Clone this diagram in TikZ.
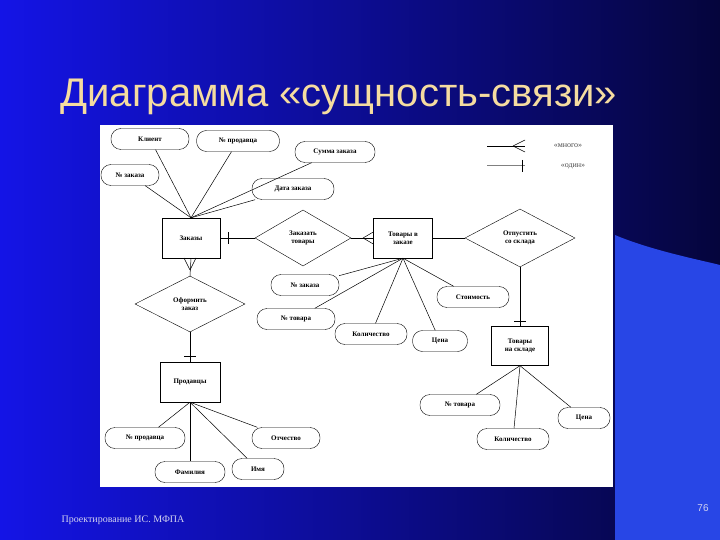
\documentclass[tikz,border=0pt]{standalone}
\usepackage{fontspec}
\setmainfont{Liberation Serif}
\newfontfamily\sansf{Liberation Sans}
\usetikzlibrary{shapes.geometric}
\definecolor{bgA}{RGB}{20,20,230}
\definecolor{bgB}{RGB}{5,5,60}
\definecolor{wedge}{RGB}{40,70,230}
\definecolor{titlec}{RGB}{245,220,160}
\definecolor{footc}{RGB}{210,210,240}
\begin{document}
\begin{tikzpicture}[x=1pt,y=-1pt,
 attr/.style={draw,rounded corners=10pt,minimum height=21pt,font=\fontsize{7}{7}\selectfont\bfseries,inner sep=1pt},
 ent/.style={draw,rectangle,font=\fontsize{7}{8}\selectfont\bfseries,align=center,inner sep=0pt},
 rel/.style={draw,diamond,aspect=1.8,font=\fontsize{7}{8}\selectfont\bfseries,align=center,inner sep=0pt},
 ln/.style={draw,line width=0.5pt}]
\useasboundingbox (0,0) rectangle (720,540);
\shade[left color=bgA,right color=bgB] (0,0) rectangle (720,540);
\fill[wedge] (615,235) .. controls (650,250) and (700,260) .. (720,265) -- (720,540) -- (615,540) -- cycle;
\node[font=\sansf\fontsize{40}{44}\selectfont,text=titlec,anchor=west] (title) at (57,97) {Диаграмма «сущность-связи»};
\node[font=\fontsize{10}{11}\selectfont,text=footc,anchor=west] (foot) at (58,520) {Проектирование ИС. МФПА};
\node[font=\sansf\fontsize{10}{11}\selectfont,text=footc] (num) at (703,508) {76};
\fill[white] (100,125) rectangle (613,487);
% entities
\node[ent,minimum width=58pt,minimum height=40pt] (zak) at (191,238) {Заказы};
\node[ent,minimum width=59pt,minimum height=40pt] (tvz) at (403,238) {Товары в\\заказе};
\node[ent,minimum width=57pt,minimum height=39pt] (tns) at (520,346) {Товары\\на складе};
\node[ent,minimum width=60pt,minimum height=40pt] (prod) at (190,382) {Продавцы};
% relations
\node[rel,minimum width=96pt,minimum height=56pt] (zt) at (303,238) {Заказать\\товары};
\node[rel,minimum width=110pt,minimum height=58pt] (ots) at (520,238) {Отпустить\\со склада};
\node[rel,minimum width=110pt,minimum height=56pt] (of) at (190,304) {Оформить\\заказ};
% attributes
\node[attr,minimum width=78pt] (a1) at (150,139) {Клиент};
\node[attr,minimum width=83pt] (a2) at (238,141) {№ продавца};
\node[attr,minimum width=80pt] (a3) at (335,152) {Сумма заказа};
\node[attr,minimum width=58pt] (a4) at (130,175) {№ заказа};
\node[attr,minimum width=82pt] (a5) at (293,189) {Дата заказа};
\node[attr,minimum width=68pt] (b1) at (305,285) {№ заказа};
\node[attr,minimum width=72pt] (b2) at (473,297) {Стоимость};
\node[attr,minimum width=78pt] (b3) at (296,319) {№ товара};
\node[attr,minimum width=72pt] (b4) at (371,334) {Количество};
\node[attr,minimum width=55pt] (b5) at (440,341) {Цена};
\node[attr,minimum width=80pt] (c1) at (460,405) {№ товара};
\node[attr,minimum width=52pt] (c2) at (584,418) {Цена};
\node[attr,minimum width=72pt] (c3) at (513,439) {Количество};
\node[attr,minimum width=80pt] (d1) at (145,438) {№ продавца};
\node[attr,minimum width=68pt] (d2) at (286,438) {Отчество};
\node[attr,minimum width=70pt] (d3) at (190,472) {Фамилия};
\node[attr,minimum width=52pt] (d4) at (258,469) {Имя};
% attribute links
\foreach \a in {a1,a2,a3,a4,a5} \draw[ln] (zak.north) -- (\a);
\foreach \a in {b1,b2,b3,b4,b5} \draw[ln] (tvz.south) -- (\a);
\foreach \a in {c1,c2,c3} \draw[ln] (tns.south) -- (\a);
\foreach \a in {d1,d2,d3,d4} \draw[ln] (prod.south) -- (\a);
% relationships
\draw[ln] (zak.east) -- (zt.west);
\draw[ln] (228,232) -- (228,244);
\draw[ln] (zt.east) -- (tvz.west);
\draw[ln] (363,238) -- (tvz.west |- 0,232) (363,238) -- (tvz.west |- 0,244);
\draw[ln] (tvz.east) -- (ots.west);
\draw[ln] (ots.south) -- (tns.north);
\draw[ln] (514,321) -- (526,321);
\draw[ln] (zak.south) -- (of.north);
\draw[ln] (190,270) -- (184,258) (190,270) -- (196,258);
\draw[ln] (of.south) -- (prod.north);
\draw[ln] (184,356) -- (196,356);
% legend
\coordinate (l1) at (487,146); \coordinate (l1e) at (525,146);
\coordinate (l2) at (487,166); \coordinate (l2e) at (525,166);
\draw[ln] (l1) -- (l1e);
\draw[ln] (513,146) -- (525,140) (513,146) -- (525,152);
\draw[ln,gray,line width=1pt] (l2) -- (l2e);
\draw[ln] (522,160) -- (522,172);
\node[font=\fontsize{8}{9}\selectfont,text=black!70] (m) at (568,146) {«много»};
\node[font=\fontsize{8}{9}\selectfont,text=black!70] (o) at (573,166) {«один»};
\end{tikzpicture}
\end{document}
